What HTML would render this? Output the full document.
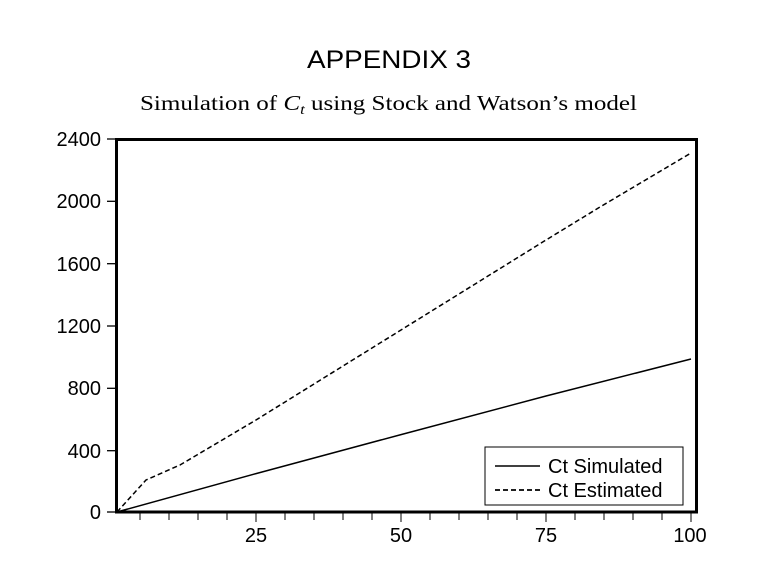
<!DOCTYPE html><html><head><style>body{margin:0;background:#fff}</style></head><body>
<svg width="772" height="559" xmlns="http://www.w3.org/2000/svg">
<text x="389" y="68" font-family="Liberation Sans, sans-serif" font-size="25" text-anchor="middle" textLength="164" lengthAdjust="spacingAndGlyphs">APPENDIX 3</text>
<text x="140" y="110" font-family="Liberation Serif, serif" font-size="21" textLength="497" lengthAdjust="spacingAndGlyphs">Simulation of <tspan font-style="italic">C</tspan><tspan font-size="14" dy="4" font-style="italic">t</tspan><tspan dy="-4"> using Stock and Watson’s model</tspan></text>
<g stroke="#000" stroke-width="1.3">
<line x1="107" y1="139" x2="116" y2="139"/><line x1="107" y1="201.3" x2="116" y2="201.3"/><line x1="107" y1="263.7" x2="116" y2="263.7"/><line x1="107" y1="326" x2="116" y2="326"/><line x1="107" y1="388.3" x2="116" y2="388.3"/><line x1="107" y1="450.7" x2="116" y2="450.7"/><line x1="107" y1="512" x2="116" y2="512"/>
</g>
<g stroke="#000" stroke-width="1">
<path d="M140 512v8M169 512v8M198 512v8M227 512v8M256 512v10M285 512v8M314 512v8M343 512v8M372 512v8M401 512v10M430 512v8M459 512v8M488 512v8M517 512v8M546 512v10M575 512v8M604 512v8M633 512v8M662 512v8M691 512v10"/>
</g>
<g font-family="Liberation Sans, sans-serif" font-size="20" text-anchor="end">
<text x="101" y="146">2400</text><text x="101" y="208">2000</text><text x="101" y="271">1600</text><text x="101" y="333">1200</text><text x="101" y="395">800</text><text x="101" y="458">400</text><text x="101" y="519">0</text>
</g>
<g font-family="Liberation Sans, sans-serif" font-size="20" text-anchor="middle">
<text x="256" y="542">25</text><text x="401" y="542">50</text><text x="546" y="542">75</text><text x="690" y="542">100</text>
</g>
<polyline fill="none" stroke="#000" stroke-width="1.5" points="117,512 256,473.6 401,434.6 546,396 691,359"/>
<polyline fill="none" stroke="#000" stroke-width="1.5" stroke-dasharray="5,3" points="117,512 146,480 180,465 256,420 401,330 546,240 600,207 691,153"/>
<rect x="116.5" y="139.5" width="580" height="372.5" fill="none" stroke="#000" stroke-width="3"/>
<rect x="485" y="447" width="198" height="58" fill="#fff" stroke="#000" stroke-width="1"/>
<line x1="495" y1="466" x2="540" y2="466" stroke="#000" stroke-width="1.5"/>
<line x1="495" y1="490" x2="540" y2="490" stroke="#000" stroke-width="1.8" stroke-dasharray="5,3"/>
<g font-family="Liberation Sans, sans-serif" font-size="20"><text x="548" y="473">Ct Simulated</text><text x="548" y="497">Ct Estimated</text></g>
</svg></body></html>
